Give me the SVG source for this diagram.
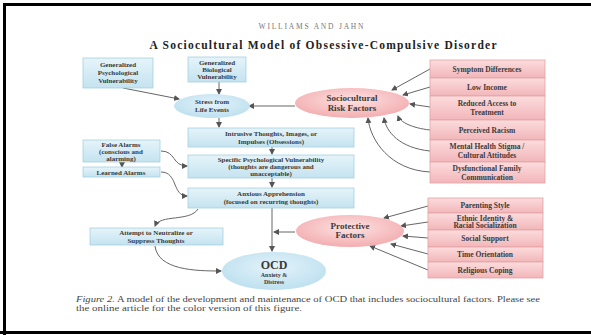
<svg xmlns="http://www.w3.org/2000/svg" width="591" height="335" viewBox="0 0 591 335">
<defs>
<linearGradient id="gb" x1="0" y1="0" x2="0" y2="1"><stop offset="0" stop-color="#e6f4fa"/><stop offset="1" stop-color="#c4e3f0"/></linearGradient>
<linearGradient id="gp" x1="0" y1="0" x2="0" y2="1"><stop offset="0" stop-color="#fcdcdd"/><stop offset="1" stop-color="#f2b6b9"/></linearGradient>
<radialGradient id="eb" cx="0.5" cy="0.4" r="0.6"><stop offset="0" stop-color="#e4f3fa"/><stop offset="1" stop-color="#bde0ef"/></radialGradient>
<radialGradient id="ep" cx="0.5" cy="0.4" r="0.6"><stop offset="0" stop-color="#fde2e2"/><stop offset="1" stop-color="#f3adb0"/></radialGradient>
<marker id="ah" markerWidth="6" markerHeight="6" refX="5" refY="3" orient="auto" markerUnits="userSpaceOnUse"><path d="M0,0 L6,3 L0,6 Z" fill="#555"/></marker>
</defs>
<style>
.bb{fill:url(#gb);stroke:#a6cfe0;stroke-width:0.8}
.pb{fill:url(#gp);stroke:#e3a2a6;stroke-width:0.8}
.t{font-family:"Liberation Serif",serif;font-weight:bold;fill:#3a3a3a;text-anchor:middle}
.s7{font-size:7px}
.s75{font-size:7.5px}
.s9{font-size:9px}
.c{fill:none;stroke:#666;stroke-width:1;marker-end:url(#ah)}
.cap{font-family:"Liberation Serif",serif;font-size:7.5px;fill:#444}
</style>
<rect width="591" height="335" fill="#fff"/>
<path d="M4.5,335 L4.5,4.5 L591,4.5" fill="none" stroke="#000" stroke-width="3"/>
<line x1="0" y1="332.5" x2="591" y2="332.5" stroke="#000" stroke-width="3"/>
<text x="311" y="29" font-family="Liberation Serif,serif" font-size="7.5" fill="#777" text-anchor="middle" textLength="105">WILLIAMS AND JAHN</text>
<text x="323" y="49" font-family="Liberation Serif,serif" font-size="11.5" font-weight="bold" fill="#222" text-anchor="middle" textLength="347">A Sociocultural Model of Obsessive-Compulsive Disorder</text>

<g id="connectors">
<path class="c" d="M123,88 L179,99"/>
<path class="c" d="M219,82 L219,94"/>
<path class="c" d="M295,106 L249,106"/>
<path class="c" d="M219,118 L219,127"/>
<path class="c" d="M272,147 L272,154"/>
<path class="c" d="M272,178 L272,187"/>
<path class="c" d="M122,162 L122,167"/>
<path class="c" d="M161,151 C176,151 172,166 187,166"/>
<path class="c" d="M161,172 C178,172 172,196 187,196"/>
<path class="c" d="M198,209 C190,222 160,214 155,226"/>
<path class="c" d="M155,246 C158,270 195,271 221,271"/>
<path class="c" d="M272,208 L272,251"/>
<path class="c" d="M295,232 L274,232"/>
<path class="c" d="M430,69 L392,90"/>
<path class="c" d="M430,87 L403,95"/>
<path class="c" d="M430,107 L410,104"/>
<path class="c" d="M430,130 C412,128 400,122 398,116"/>
<path class="c" d="M430,151 C400,148 386,132 384,118"/>
<path class="c" d="M430,172 C390,170 370,140 368,118"/>
<path class="c" d="M428,206 L384,218"/>
<path class="c" d="M428,222 L401,226"/>
<path class="c" d="M428,238 L403,236"/>
<path class="c" d="M428,254 L391,244"/>
<path class="c" d="M428,270 L370,246"/>
</g>

<g id="gen-psych"><rect class="bb" x="83" y="58" width="70" height="30"/>
<text class="t s7" x="118" y="67">Generalized</text><text class="t s7" x="118" y="75">Psychological</text><text class="t s7" x="118" y="83">Vulnerability</text></g>
<g id="gen-bio"><rect class="bb" x="188" y="57" width="58" height="25"/>
<text class="t s7" x="217" y="65">Generalized</text><text class="t s7" x="217" y="72">Biological</text><text class="t s7" x="217" y="79">Vulnerability</text></g>
<g id="stress"><ellipse cx="212" cy="106" rx="38" ry="12" fill="url(#eb)"/>
<text class="t s7" x="212" y="104">Stress from</text><text class="t s7" x="212" y="112">Life Events</text></g>
<g id="risk"><ellipse cx="352" cy="103" rx="57" ry="15" fill="url(#ep)"/>
<text class="t s9" x="352" y="101">Sociocultural</text><text class="t s9" x="352" y="111">Risk Factors</text></g>
<g id="intrusive"><rect class="bb" x="188" y="128" width="166" height="19"/>
<text class="t s7" x="271" y="136">Intrusive Thoughts, Images, or</text><text class="t s7" x="271" y="144">Impulses (Obsessions)</text></g>
<g id="specific"><rect class="bb" x="188" y="155" width="166" height="23"/>
<text class="t s7" x="271" y="162">Specific Psychological Vulnerability</text><text class="t s7" x="271" y="169">(thoughts are dangerous and</text><text class="t s7" x="271" y="176">unacceptable)</text></g>
<g id="false-alarms"><rect class="bb" x="83" y="140" width="77" height="22"/>
<text class="t s7" x="121" y="147">False Alarms</text><text class="t s7" x="121" y="154">(conscious and</text><text class="t s7" x="121" y="161">alarming)</text></g>
<g id="learned-alarms"><rect class="bb" x="83" y="167" width="77" height="10"/>
<text class="t s7" x="121" y="174.5">Learned Alarms</text></g>
<g id="anxious"><rect class="bb" x="188" y="188" width="166" height="20"/>
<text class="t s7" x="271" y="196">Anxious Apprehension</text><text class="t s7" x="271" y="204">(focused on recurring thoughts)</text></g>
<g id="attempt"><rect class="bb" x="90" y="228" width="133" height="17"/>
<text class="t s7" x="156" y="235">Attempt to Neutralize or</text><text class="t s7" x="156" y="242.5">Suppress Thoughts</text></g>
<g id="ocd"><ellipse cx="274" cy="271" rx="52" ry="19" fill="url(#eb)"/>
<text class="t" x="274" y="269" font-size="12">OCD</text><text class="t" x="274" y="277" font-size="6">Anxiety &amp;</text><text class="t" x="274" y="284" font-size="6">Distress</text></g>
<g id="protective"><ellipse cx="350" cy="231" rx="54" ry="16" fill="url(#ep)"/>
<text class="t s9" x="350" y="229">Protective</text><text class="t s9" x="350" y="238">Factors</text></g>

<g id="r1"><rect class="pb" x="430" y="60" width="115" height="18"/><text class="t s75" x="487" y="71.5">Symptom Differences</text></g>
<g id="r2"><rect class="pb" x="430" y="78" width="115" height="18"/><text class="t s75" x="487" y="89.5">Low Income</text></g>
<g id="r3"><rect class="pb" x="430" y="96" width="115" height="24"/><text class="t s75" x="487" y="106">Reduced Access to</text><text class="t s75" x="487" y="115">Treatment</text></g>
<g id="r4"><rect class="pb" x="430" y="120" width="115" height="20"/><text class="t s75" x="487" y="132.5">Perceived Racism</text></g>
<g id="r5"><rect class="pb" x="430" y="140" width="115" height="22"/><text class="t s75" x="487" y="149">Mental Health Stigma /</text><text class="t s75" x="487" y="158">Cultural Attitudes</text></g>
<g id="r6"><rect class="pb" x="430" y="162" width="115" height="21"/><text class="t s75" x="487" y="171">Dysfunctional Family</text><text class="t s75" x="487" y="180">Communication</text></g>

<g id="p1"><rect class="pb" x="428" y="198" width="115" height="15"/><text class="t s75" x="485" y="208">Parenting Style</text></g>
<g id="p2"><rect class="pb" x="428" y="213" width="115" height="17"/><text class="t s75" x="485" y="220.5">Ethnic Identity &amp;</text><text class="t s75" x="485" y="228">Racial Socialization</text></g>
<g id="p3"><rect class="pb" x="428" y="230" width="115" height="17"/><text class="t s75" x="485" y="241">Social Support</text></g>
<g id="p4"><rect class="pb" x="428" y="247" width="115" height="15"/><text class="t s75" x="485" y="257">Time Orientation</text></g>
<g id="p5"><rect class="pb" x="428" y="262" width="115" height="16"/><text class="t s75" x="485" y="272.5">Religious Coping</text></g>

<text class="cap" x="76" y="302" textLength="464" lengthAdjust="spacingAndGlyphs"><tspan font-style="italic">Figure 2.</tspan>  A model of the development and maintenance of OCD that includes sociocultural factors. Please see</text>
<text class="cap" x="76" y="310.5" textLength="226" lengthAdjust="spacingAndGlyphs">the online article for the color version of this figure.</text>
</svg>
